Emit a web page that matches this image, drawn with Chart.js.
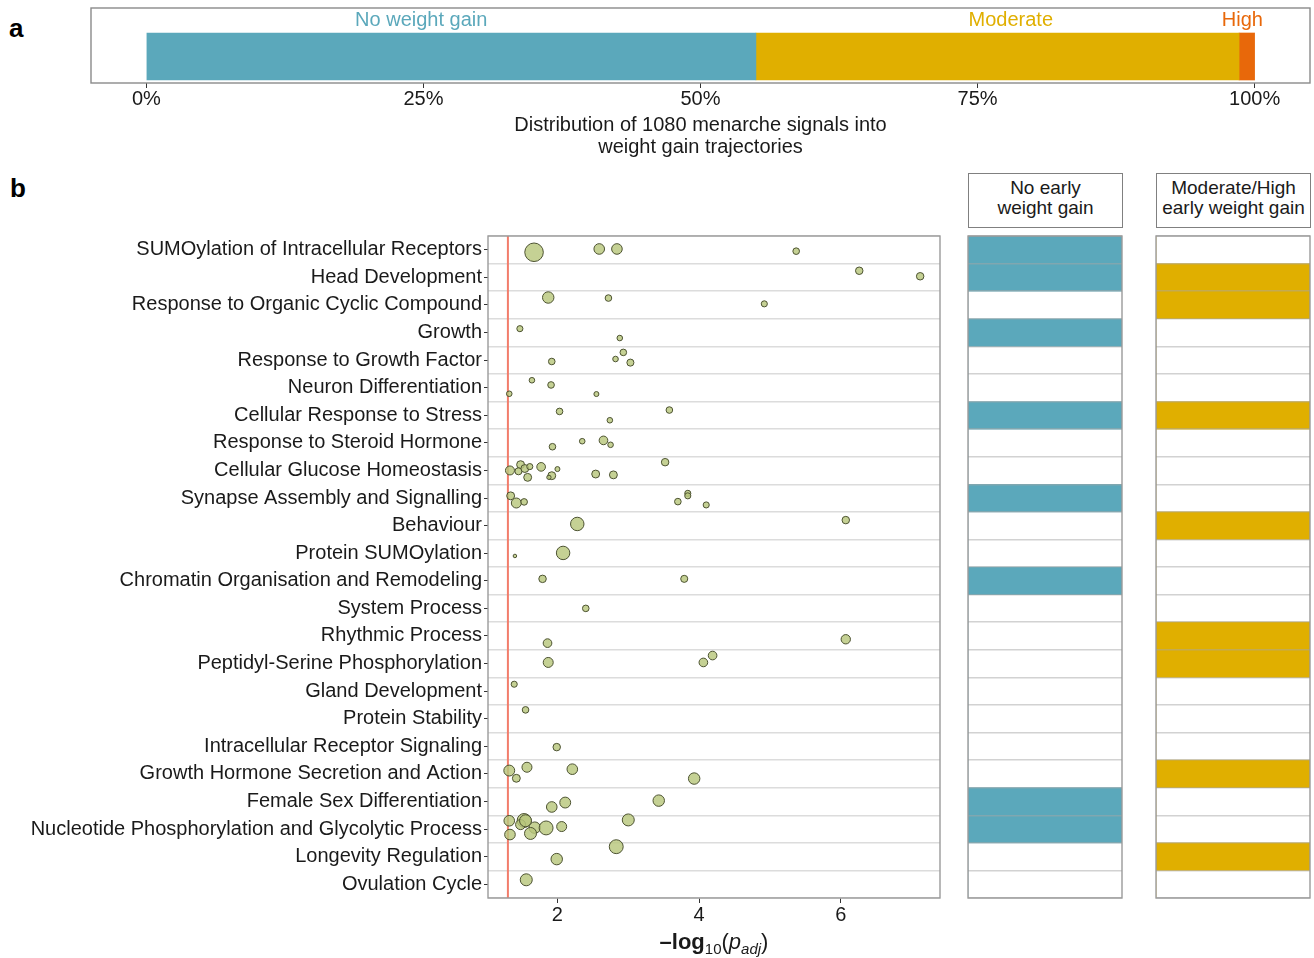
<!DOCTYPE html>
<html>
<head>
<meta charset="utf-8">
<script src="https://cdn.jsdelivr.net/npm/chart.js@4.4.1/dist/chart.umd.min.js"></script>
<style>
  body { margin:0; background:#fff; width:1314px; height:958px; overflow:hidden; position:relative;
         font-family:"Liberation Sans", Arial, sans-serif; color:#1a1a1a; }
  canvas { position:absolute; }
  .panel { position:absolute; font-weight:bold; font-size:26px; line-height:26px; color:#000; }
  .strip { position:absolute; box-sizing:border-box; border:1px solid #808080; text-align:center;
           font-size:19px; line-height:20px; padding-top:4px; }
  #xtitle { position:absolute; left:488px; top:929px; width:452px; text-align:center; font-size:22px; line-height:26px; }
  #xtitle .sub { font-size:15px; position:relative; top:5px; }
</style>
</head>
<body>
<div class="panel" style="left:9px;top:15px">a</div>
<div class="panel" style="left:10px;top:175px">b</div>

<canvas id="chGroups" width="1314" height="165" style="left:0;top:0"></canvas>
<canvas id="chTerms" width="950" height="728" style="left:0;top:230px"></canvas>
<canvas id="chNoGain" width="170" height="728" style="left:960px;top:230px"></canvas>
<canvas id="chModHigh" width="166" height="728" style="left:1148px;top:230px"></canvas>

<div class="strip" style="left:968px;top:173px;width:155px;height:55px">No early<br>weight gain</div>
<div class="strip" style="left:1156px;top:173px;width:155px;height:55px">Moderate/High<br>early weight gain</div>
<div id="xtitle"><b>&ndash;log</b><span class="sub">10</span>(<i>p</i><span class="sub"><i>adj</i></span>)</div>

<script>
// ---- panel a: share of menarche signals per trajectory (%)
var groupNames = ['No weight gain', 'Moderate', 'High'];
var groupShares = [55.0, 43.6, 1.4];
var groupLabelAt = [24.8, 78.0, 98.9];
var groupTicks = [0, 25, 50, 75, 100];

// ---- panel b: enriched terms
var categories = [
  'SUMOylation of Intracellular Receptors', 'Head Development', 'Response to Organic Cyclic Compound',
  'Growth', 'Response to Growth Factor', 'Neuron Differentiation', 'Cellular Response to Stress',
  'Response to Steroid Hormone', 'Cellular Glucose Homeostasis', 'Synapse Assembly and Signalling',
  'Behaviour', 'Protein SUMOylation', 'Chromatin Organisation and Remodeling', 'System Process',
  'Rhythmic Process', 'Peptidyl-Serine Phosphorylation', 'Gland Development', 'Protein Stability',
  'Intracellular Receptor Signaling', 'Growth Hormone Secretion and Action', 'Female Sex Differentiation',
  'Nucleotide Phosphorylation and Glycolytic Process', 'Longevity Regulation', 'Ovulation Cycle'
];

// one entry per enriched gene set: term row, -log10(padj), vertical jitter, overlap genes
var termRow = [
  0,0,0,0,  1,1,  2,2,2,  3,3,  4,4,4,4,  5,5,5,5,  6,6,6,  7,7,7,7,
  8,8,8,8,8,8,8,8,8,8,8,8,8,  9,9,9,9,9,9,9,  10,10,  11,11,  12,12,  13,  14,14,
  15,15,15,  16,  17,  18,  19,19,19,19,19,  20,20,20,
  21,21,21,21,21,21,21,21,21,21,  22,22,  23
];
var negLogP = [
  1.67,2.59,2.84,5.37,  6.26,7.12,  1.87,2.72,4.92,  1.47,2.88,  2.93,2.82,3.03,1.92,
  1.64,1.91,1.32,2.55,  2.03,2.74,3.58,  1.93,2.35,2.65,2.75,
  1.33,1.48,1.45,1.54,1.61,1.58,1.77,2.00,1.92,1.88,2.54,2.79,3.52,
  1.34,1.42,1.53,3.70,3.84,3.84,4.10,  2.28,6.07,  1.40,2.08,  1.79,3.79,  2.40,  1.86,6.07,
  1.87,4.06,4.19,  1.39,  1.55,  1.99,  1.32,1.42,1.57,2.21,3.93,  1.92,2.11,3.43,
  1.32,1.53,1.48,1.55,1.68,1.62,1.84,2.06,3.00,1.33,  2.83,1.99,  1.56
];
var jitter = [
  0.09,-0.03,-0.03,0.05,  -0.24,-0.04,  -0.27,-0.25,-0.04,  -0.14,0.20,  -0.28,-0.04,0.09,0.05,
  -0.27,-0.10,0.22,0.23,  -0.14,0.18,-0.19,  0.14,-0.06,-0.09,0.07,
  0.00,-0.21,0.03,-0.07,-0.14,0.25,-0.13,-0.05,0.19,0.25,0.13,0.16,-0.30,
  -0.08,0.18,0.14,0.13,-0.17,-0.08,0.25,  -0.06,-0.20,  0.10,-0.01,  -0.07,-0.07,  0.00,  0.26,0.12,
  -0.04,-0.04,-0.29,  -0.25,  -0.32,  0.03,  -0.12,0.16,-0.24,-0.17,0.17,  0.20,0.04,-0.03,
  -0.30,-0.31,-0.16,-0.30,-0.05,0.16,-0.04,-0.09,-0.33,0.20,  -0.36,0.09,  -0.16
];
var geneCount = [
  55,18,18,7,  9,9,  21,7,6,  6,5,  7,5,8,7,  5,7,5,4,  7,5,7,  7,5,12,5,
  13,10,8,10,6,10,12,4,10,3,10,10,9,
  10,16,7,7,6,6,6,  29,9,  2,29,  9,8,  7,  12,14,
  16,12,12,  6,  7,  9,  19,10,16,18,21,  18,19,21,
  18,31,16,23,21,23,31,16,23,18,  31,21,  23
];
var termTicks = [2, 4, 6];
var padjCutoff = -Math.log10(0.05);

// trajectory membership of each term (1 = enriched)
var noEarlyGain = [1,1,0,1,0,0,1,0,0,1,0,0,1,0,0,0,0,0,0,0,1,1,0,0];
var modHighGain = [0,1,1,0,0,0,1,0,0,0,1,0,0,0,1,1,0,0,0,1,0,0,1,0];

var colors = ['#5BA8BB', '#E0AF00', '#E8680A'];
var family = '"Liberation Sans", Arial, sans-serif';
Chart.defaults.font.family = family;
Chart.defaults.color = '#1a1a1a';

var panelBorder = {
  id: 'panelBorder',
  afterDraw: function(chart, args, opts) {
    var a = chart.chartArea, ctx = chart.ctx;
    var top = a.top - (opts.extraTop || 0);
    ctx.save();
    ctx.strokeStyle = opts.color || '#9b9b9b';
    ctx.lineWidth = 1.4;
    ctx.strokeRect(a.left, top, a.right - a.left, a.bottom - top);
    ctx.restore();
  }
};

var segmentLabels = {
  id: 'segmentLabels',
  afterDatasetsDraw: function(chart) {
    var xs = chart.scales.x, ctx = chart.ctx;
    ctx.save();
    ctx.font = '20px ' + family;
    ctx.textAlign = 'center';
    ctx.textBaseline = 'middle';
    groupNames.forEach(function(name, i) {
      ctx.fillStyle = colors[i];
      ctx.fillText(name, xs.getPixelForValue(groupLabelAt[i]), chart.chartArea.top - 10);
    });
    ctx.restore();
  }
};

function noEdgePadding(s) { s.paddingTop = 0; s.paddingBottom = 0; }

// panel a
new Chart(document.getElementById('chGroups'), {
  type: 'bar',
  data: {
    labels: ['signals'],
    datasets: groupNames.map(function(n, i) {
      return { label: n, data: [groupShares[i]], backgroundColor: colors[i], barThickness: 47, borderWidth: 0 };
    })
  },
  options: {
    indexAxis: 'y',
    responsive: false,
    animation: false,
    layout: { padding: { left: 91, right: 4, top: 30, bottom: 0 } },
    plugins: { legend: { display: false }, tooltip: { enabled: false }, panelBorder: { extraTop: 22, color: '#8a8a8a' } },
    scales: {
      x: {
        stacked: true, min: -5, max: 105,
        afterBuildTicks: function(s) { s.ticks = groupTicks.map(function(v) { return { value: v }; }); },
        afterFit: function(s) { s.height = 82; },
        ticks: { font: { size: 20 }, padding: -1, callback: function(v) { return v + '%'; } },
        grid: { drawOnChartArea: false, tickLength: 5, color: '#333' },
        border: { display: false },
        title: { display: true, text: ['Distribution of 1080 menarche signals into', 'weight gain trajectories'],
                 font: { size: 20, lineHeight: 1.1 }, padding: { top: 0, bottom: 7 } }
      },
      y: { stacked: true, display: false }
    }
  },
  plugins: [panelBorder, segmentLabels]
});

// panel b: bubbles
var points = termRow.map(function(row, i) {
  return { x: negLogP[i], y: row + jitter[i], r: 1.25 * Math.sqrt(geneCount[i]) };
});
var rowCentres = categories.map(function(c, i) { return { value: i }; });
var rowEdges = categories.map(function(c, i) { return { value: i - 0.5 }; }).concat([{ value: categories.length - 0.5 }]);

new Chart(document.getElementById('chTerms'), {
  type: 'bubble',
  data: {
    datasets: [
      { data: points, backgroundColor: 'rgba(184,199,124,0.82)', borderColor: '#4c5231', borderWidth: 1, order: 0 },
      { type: 'line', data: [{ x: padjCutoff, y: -0.5 }, { x: padjCutoff, y: categories.length - 0.5 }],
        borderColor: '#F27D6B', borderWidth: 2, pointRadius: 0, order: 1 }
    ]
  },
  options: {
    responsive: false,
    animation: false,
    layout: { autoPadding: false, padding: { left: 0, right: 10, top: 6, bottom: 0 } },
    plugins: { legend: { display: false }, tooltip: { enabled: false } },
    scales: {
      x: {
        type: 'linear', min: 1.02, max: 7.4,
        afterBuildTicks: function(s) { s.ticks = termTicks.map(function(v) { return { value: v }; }); },
        afterFit: function(s) { s.height = 60; },
        ticks: { font: { size: 20 }, padding: 0 },
        grid: { drawOnChartArea: false, tickLength: 5, color: '#333' },
        border: { display: false }
      },
      y: {
        type: 'linear', min: -0.5, max: categories.length - 0.5, reverse: true,
        afterBuildTicks: function(s) { s.ticks = rowCentres.slice(); },
        afterFit: function(s) { s.width = 488; noEdgePadding(s); },
        ticks: { autoSkip: false, font: { size: 20 }, padding: 2,
                 callback: function(v) { return categories[v]; } },
        grid: { drawOnChartArea: false, tickLength: 4, color: '#333' },
        border: { display: false }
      },
      yg: {
        type: 'linear', position: 'right', min: -0.5, max: categories.length - 0.5, reverse: true,
        afterBuildTicks: function(s) { s.ticks = rowEdges.slice(); },
        afterFit: function(s) { s.width = 0; noEdgePadding(s); },
        ticks: { display: false },
        grid: { color: '#dcdcdc', lineWidth: 1.5, drawTicks: false },
        border: { display: false }
      }
    }
  },
  plugins: [panelBorder]
});

// panel b: trajectory membership columns
function membership(id, values, color, padRight) {
  new Chart(document.getElementById(id), {
    type: 'bar',
    data: {
      labels: categories,
      datasets: [{ data: values, backgroundColor: color, barPercentage: 1, categoryPercentage: 1, borderWidth: 0 }]
    },
    options: {
      indexAxis: 'y',
      responsive: false,
      animation: false,
      layout: { padding: { left: 8, right: padRight, top: 6, bottom: 60 } },
      plugins: { legend: { display: false }, tooltip: { enabled: false } },
      scales: {
        x: { display: false, min: 0, max: 1 },
        y: {
          afterFit: function(s) { s.width = 0; noEdgePadding(s); },
          ticks: { display: false },
          grid: { z: 1, color: 'rgba(165,165,165,0.5)', lineWidth: 1.5, drawTicks: false, offset: true },
          border: { display: false }
        }
      }
    },
    plugins: [panelBorder]
  });
}
membership('chNoGain', noEarlyGain, colors[0], 8);
membership('chModHigh', modHighGain, colors[1], 4);
</script>
</body>
</html>
